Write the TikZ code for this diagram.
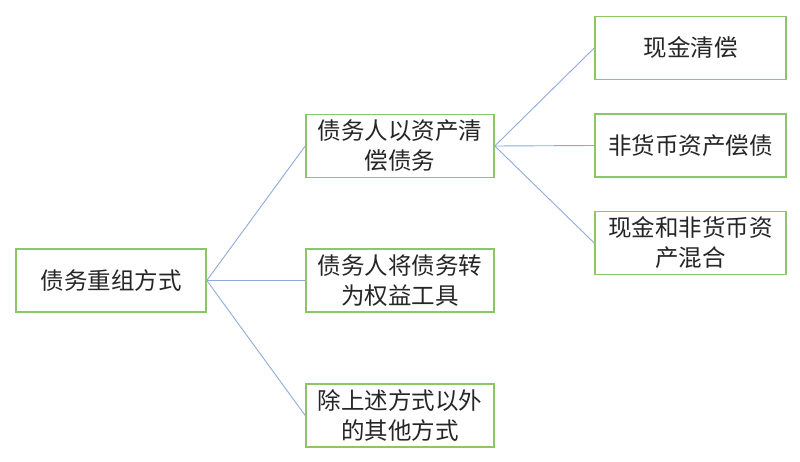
\documentclass[tikz,border=0pt]{standalone}
\usepackage{fontspec}
\setmainfont{Noto Sans CJK SC}
\definecolor{boxgreen}{RGB}{141,198,102}
\definecolor{linkblue}{RGB}{142,170,219}
\definecolor{txt}{RGB}{38,38,38}
\begin{document}
\begin{tikzpicture}[x=1pt,y=-1pt,
  box/.style={draw=boxgreen,line width=1.6pt,fill=white,minimum height=63pt,inner sep=1pt,
    align=center,text=txt,font=\fontsize{23.5}{30}\selectfont},
  link/.style={draw=linkblue,line width=0.9pt}]
\useasboundingbox (0,0) rectangle (800,462);
\node[box,minimum width=190pt] (root) at (111,280.5) {债务重组方式};
\node[box,minimum width=188pt] (m1) at (400,146) {债务人以资产清\\偿债务};
\node[box,minimum width=188pt] (m2) at (400,280.5) {债务人将债务转\\为权益工具};
\node[box,minimum width=188pt] (m3) at (400,415.5) {除上述方式以外\\的其他方式};
\node[box,minimum width=191pt] (r1) at (690.5,48) {现金清偿};
\node[box,minimum width=191pt] (r2) at (690.5,145.5) {非货币资产偿债};
\node[box,minimum width=191pt] (r3) at (690.5,243) {现金和非货币资\\产混合};
\draw[link] (root.east) -- (m1.west);
\draw[link] (root.east) -- (m2.west);
\draw[link] (root.east) -- (m3.west);
\draw[link] (m1.east) -- (r1.west);
\draw[link] (m1.east) -- (r2.west);
\draw[link] (m1.east) -- (r3.west);
\end{tikzpicture}
\end{document}
